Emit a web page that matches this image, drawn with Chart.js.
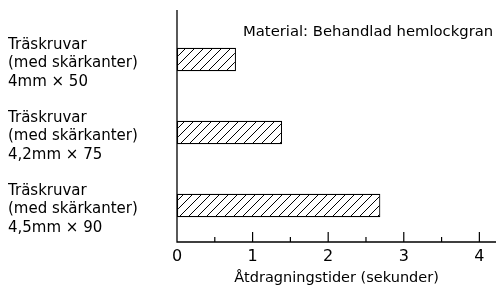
<!DOCTYPE html>
<html>
<head>
<meta charset="utf-8">
<script src="https://cdn.jsdelivr.net/npm/chart.js@4"></script>
<style>
    html, body { margin: 0; padding: 0; background: #fff; }
    #wrap { width: 499px; height: 285px; position: relative; }
</style>
</head>
<body>
<div id="wrap"><canvas id="torqueChart"></canvas></div>
<script>
// Data
const screwLabels = [
    ['Träskruvar', '(med skärkanter)', '4mm × 50'],
    ['Träskruvar', '(med skärkanter)', '4,2mm × 75'],
    ['Träskruvar', '(med skärkanter)', '4,5mm × 90']
];
const tighteningTimes = [0.78, 1.39, 2.69];
const xTickValues = [0, 0.5, 1, 1.5, 2, 2.5, 3, 3.5, 4];
const materialNote = 'Material: Behandlad hemlockgran';
const xTitle = 'Åtdragningstider (sekunder)';

const FONT = '"DejaVu Sans", sans-serif';

function hatchPattern() {
    const size = 9;
    const c = document.createElement('canvas');
    c.width = size;
    c.height = size;
    const g = c.getContext('2d');
    g.fillStyle = '#fff';
    g.fillRect(0, 0, size, size);
    g.strokeStyle = '#000';
    g.lineWidth = 1;
    g.beginPath();
    g.moveTo(0, size); g.lineTo(size, 0);
    g.moveTo(-size, size); g.lineTo(0, 0);
    g.moveTo(size, 2 * size); g.lineTo(2 * size, size);
    g.stroke();
    return g.createPattern(c, 'repeat');
}

// axis lines, inward ticks and the material note
const decorations = {
    id: 'decorations',
    afterDraw(chart) {
        const { ctx, chartArea, scales } = chart;
        const x = scales.x;
        const x0 = x.getPixelForValue(0);
        ctx.save();
        ctx.strokeStyle = '#000';
        ctx.lineWidth = 1.3;
        ctx.beginPath();
        ctx.moveTo(x0, 10);
        ctx.lineTo(x0, chartArea.bottom);
        ctx.lineTo(chartArea.right, chartArea.bottom);
        ctx.stroke();
        ctx.lineWidth = 1.2;
        xTickValues.forEach(v => {
            if (v === 0) return;
            const px = x.getPixelForValue(v);
            const len = Number.isInteger(v) ? 10 : 5;
            ctx.beginPath();
            ctx.moveTo(px, chartArea.bottom);
            ctx.lineTo(px, chartArea.bottom - len);
            ctx.stroke();
        });
        ctx.fillStyle = '#000';
        ctx.font = '14.8px ' + FONT;
        ctx.textBaseline = 'middle';
        ctx.textAlign = 'left';
        ctx.fillText(materialNote, 243, 32);
        ctx.restore();
    }
};

new Chart(document.getElementById('torqueChart'), {
    type: 'bar',
    data: {
        labels: screwLabels,
        datasets: [{
            data: tighteningTimes,
            backgroundColor: hatchPattern(),
            borderColor: '#000',
            borderWidth: 1.2,
            borderSkipped: false,
            categoryPercentage: 1,
            barPercentage: 0.32
        }]
    },
    options: {
        indexAxis: 'y',
        responsive: true,
        maintainAspectRatio: false,
        animation: false,
        devicePixelRatio: 1,
        layout: { padding: { left: 8, top: 23, right: 3, bottom: 0 } },
        plugins: { legend: { display: false }, tooltip: { enabled: false } },
        scales: {
            x: {
                type: 'linear',
                min: 0,
                max: 4.22,
                afterBuildTicks: s => { s.ticks = xTickValues.map(v => ({ value: v })); },
                afterFit: s => { s.height = 43; s.paddingLeft = 0; s.paddingRight = 0; },
                grid: { display: false, drawTicks: false },
                border: { display: false },
                ticks: {
                    padding: 5,
                    color: '#000',
                    font: { family: FONT, size: 16 },
                    callback: v => Number.isInteger(v) ? String(v) : ''
                },
                title: {
                    display: true,
                    text: xTitle,
                    color: '#000',
                    font: { family: FONT, size: 14.5 },
                    padding: { top: 0, bottom: -2 }
                }
            },
            y: {
                afterFit: s => { s.width = 169; s.paddingTop = 0; s.paddingBottom = 0; },
                grid: { display: false, drawTicks: false },
                border: { display: false },
                ticks: {
                    crossAlign: 'far',
                    labelOffset: 4,
                    color: '#000',
                    font: { family: FONT, size: 15, lineHeight: 1.23 }
                }
            }
        }
    },
    plugins: [decorations]
});
</script>
</body>
</html>
